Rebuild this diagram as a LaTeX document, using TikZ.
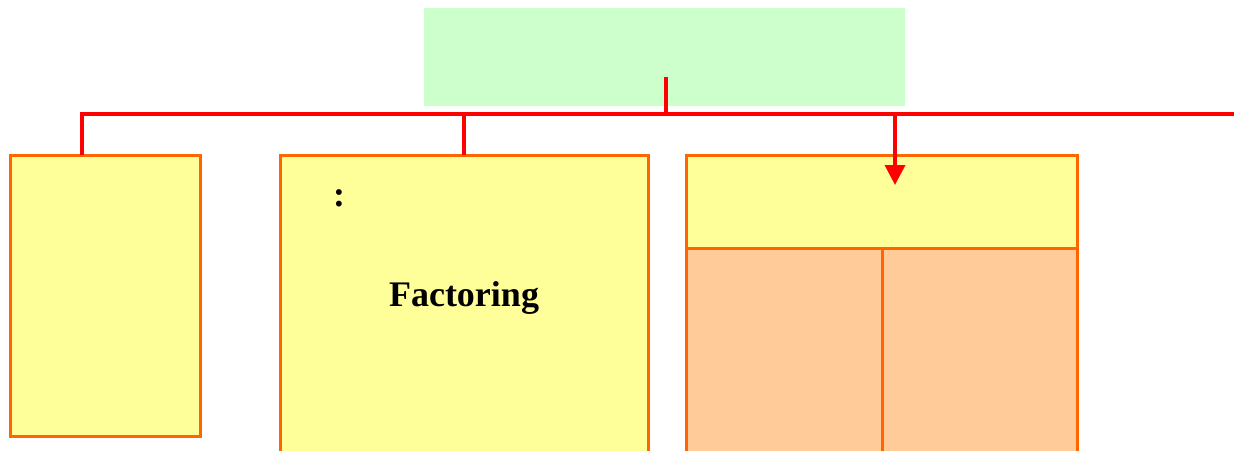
\documentclass[tikz,border=0pt]{standalone}
\usepackage{fontspec}
\setmainfont{Liberation Serif}
\usetikzlibrary{arrows.meta}
\definecolor{mint}{HTML}{CCFFCC}
\definecolor{lemon}{HTML}{FFFF99}
\definecolor{peach}{HTML}{FFCC99}
\definecolor{rim}{HTML}{FF6600}
\begin{document}
\begin{tikzpicture}[x=1pt,y=-1pt,
    box/.style={draw=rim,line width=3pt,fill=lemon,inner sep=0pt,outer sep=0pt,anchor=north west},
    bus/.style={draw=red,line width=3.5pt},
    feed/.style={bus,-{Triangle[width=20pt,length=20pt]}},
    lbl/.style={font=\fontsize{36}{40}\selectfont\bfseries,inner sep=0pt}
]
    \useasboundingbox (0,0) rectangle (1238,450);
    \clip (0,0) rectangle (1238,450);

    \node[fill=mint,minimum width=481pt,minimum height=98pt,inner sep=0pt,anchor=north west] (head) at (424,8) {};

    \node[box,minimum width=190pt,minimum height=281pt] (left) at (10,155) {};
    \node[box,minimum width=368pt,minimum height=300pt] (mid) at (280,155) {};
    \node[box,minimum width=391pt,minimum height=93pt] (top) at (686,155) {};
    \node[box,fill=peach,minimum width=196pt,minimum height=206pt] (lowa) at (686,248) {};
    \node[box,fill=peach,minimum width=195pt,minimum height=206pt] (lowb) at (882,248) {};

    \node[lbl] (colon) at (339,198) {:};
    \node[lbl] (fact) at (464,298) {Factoring};

    \coordinate (stem) at (666,77);
    \coordinate (busL) at (82,114);
    \coordinate (busR) at (1234,114);
    \coordinate (tap) at (895,114);
    \coordinate (aim) at (895,185);

    \path[bus] (busL |- left.north) -- (busL) -- (busR);
    \path[bus] (stem) -- (stem |- busL);
    \path[bus] (mid.north) -- (mid.north |- busL);
    \draw[feed] (tap) -- (aim);
\end{tikzpicture}
\end{document}
